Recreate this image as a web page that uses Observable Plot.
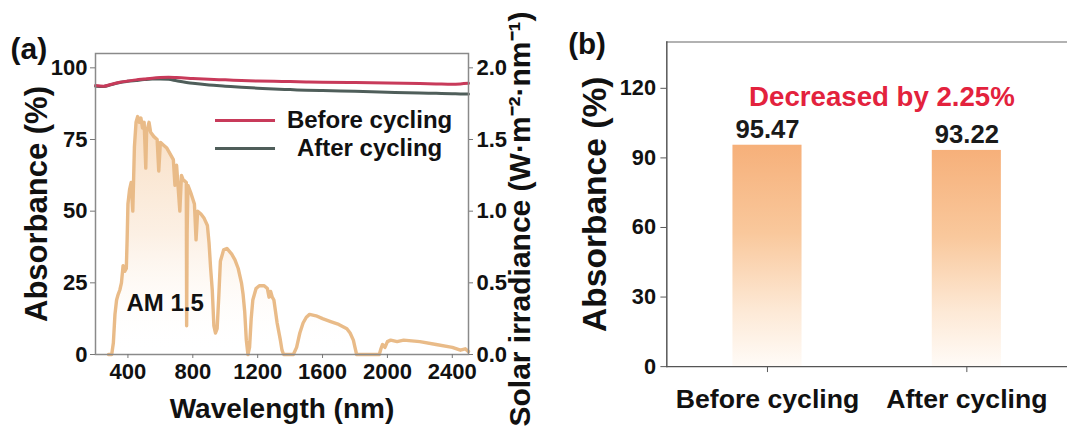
<!DOCTYPE html>
<html>
<head>
<meta charset="utf-8">
<script src="https://cdn.jsdelivr.net/npm/d3@7"></script>
<script src="https://cdn.jsdelivr.net/npm/@observablehq/plot@0.6"></script>
<style>
  html, body { margin: 0; padding: 0; background: #fff; overflow: hidden; }
  #wrap { position: relative; width: 1067px; height: 430px; overflow: hidden; }
  #pa { position: absolute; left: 0; top: 0; }
  #pb { position: absolute; left: 540px; top: 0; }
</style>
</head>
<body>
<div id="wrap"><div id="pa"></div><div id="pb"></div></div>
<script>
// ---------- data: panel (a) ----------
const wavelengths = [200, 250, 300, 350, 400, 450, 500, 550, 600, 650, 700, 800, 900, 1000, 1100, 1200, 1300, 1400, 1500, 1600, 1800, 2000, 2200, 2300, 2400, 2450, 2500];
const absBefore   = [93.8, 93.6, 94.3, 95.0, 95.4, 95.8, 96.1, 96.4, 96.6, 96.7, 96.6, 96.3, 96.0, 95.8, 95.6, 95.4, 95.3, 95.2, 95.1, 95.0, 94.9, 94.7, 94.5, 94.4, 94.3, 94.4, 94.6];
const absAfter    = [93.6, 93.5, 94.2, 94.9, 95.3, 95.6, 95.9, 96.1, 96.1, 96.0, 95.5, 94.6, 94.0, 93.6, 93.2, 92.9, 92.6, 92.4, 92.2, 92.1, 91.8, 91.5, 91.2, 91.1, 91.0, 90.9, 90.9];

const solarWl  = [280, 300, 310, 320, 330, 340, 350, 360, 370, 380, 390, 395, 400, 410, 420, 430, 440, 450, 460, 470, 480, 490, 500, 510, 515, 530, 540, 560, 580, 590, 600, 620, 640, 660, 680, 690, 700, 720, 730, 740, 760, 762, 765, 770, 790, 810, 820, 830, 850, 870, 890, 900, 910, 920, 930, 940, 950, 960, 970, 990, 1010, 1040, 1060, 1080, 1100, 1110, 1120, 1130, 1140, 1150, 1160, 1170, 1190, 1210, 1240, 1260, 1270, 1280, 1290, 1300, 1310, 1320, 1340, 1350, 1360, 1420, 1440, 1460, 1480, 1500, 1520, 1560, 1600, 1650, 1700, 1750, 1770, 1790, 1800, 1810, 1950, 1960, 1970, 1985, 2000, 2020, 2060, 2100, 2200, 2300, 2400, 2450, 2480, 2500];
const solarIrr = [0, 0, 0.08, 0.28, 0.38, 0.42, 0.45, 0.50, 0.62, 0.58, 0.60, 0.80, 1.05, 1.15, 1.20, 1.00, 1.45, 1.62, 1.66, 1.62, 1.65, 1.58, 1.62, 1.30, 1.55, 1.62, 1.55, 1.52, 1.50, 1.28, 1.48, 1.46, 1.44, 1.40, 1.36, 1.18, 1.32, 1.00, 1.25, 1.22, 1.20, 0.20, 0.85, 1.18, 1.12, 1.05, 0.80, 1.00, 0.98, 0.95, 0.90, 0.78, 0.60, 0.45, 0.20, 0.15, 0.18, 0.40, 0.65, 0.73, 0.74, 0.70, 0.66, 0.60, 0.50, 0.42, 0.30, 0.10, 0.00, 0.05, 0.25, 0.38, 0.46, 0.48, 0.48, 0.46, 0.40, 0.44, 0.40, 0.38, 0.30, 0.22, 0.10, 0.03, 0, 0, 0.05, 0.15, 0.22, 0.26, 0.28, 0.27, 0.25, 0.23, 0.21, 0.18, 0.15, 0.10, 0.05, 0, 0, 0.04, 0.07, 0.05, 0.09, 0.10, 0.09, 0.10, 0.09, 0.07, 0.05, 0.03, 0.04, 0.02];

const xTicksA = [400, 800, 1200, 1600, 2000, 2400];
const yTicksA = [0, 25, 50, 75, 100];
const yTicksRight = [0, 0.5, 1.0, 1.5, 2.0];
const legendLabels = ["Before cycling", "After cycling"];

// ---------- data: panel (b) ----------
const barCategories = ["Before cycling", "After cycling"];
const barValues = [95.47, 93.22];
const yTicksB = [0, 30, 60, 90, 120];
const noteB = "Decreased by 2.25%";

// ---------- build ----------
const FONT = "'Liberation Sans', Arial, Helvetica, sans-serif";
const RED = "#c83a5a", GREY = "#4f5e5a";
const K = 50; // right-axis (W·m⁻²·nm⁻¹) → left-axis (%) factor

const absRows = wavelengths.map((w, i) => ({w, before: absBefore[i], after: absAfter[i]}));
const solarRows = solarWl.map((w, i) => ({w, irr: solarIrr[i]}));

const chartA = Plot.plot({
  width: 540, height: 430,
  marginLeft: 95, marginRight: 72, marginTop: 53, marginBottom: 76,
  style: {fontFamily: FONT, fontWeight: "bold", fontSize: "22px", color: "#111", background: "transparent", overflow: "visible"},
  x: {domain: [200, 2500]},
  y: {domain: [0, 105]},
  marks: [
    Plot.areaY(solarRows, {x: "w", y: d => d.irr * K, fill: "url(#amFill)"}),
    Plot.lineY(solarRows, {x: "w", y: d => d.irr * K, stroke: "#e9bb88", strokeWidth: 3.4, strokeLinejoin: "round"}),
    Plot.lineY(absRows, {x: "w", y: "after", stroke: GREY, strokeWidth: 3, curve: "monotone-x"}),
    Plot.lineY(absRows, {x: "w", y: "before", stroke: RED, strokeWidth: 3, curve: "monotone-x"}),
    // legend
    Plot.ruleY([legendLabels[0]], {y: 81.6, x1: 940, x2: 1310, stroke: RED, strokeWidth: 3}),
    Plot.ruleY([legendLabels[1]], {y: 71.9, x1: 940, x2: 1310, stroke: GREY, strokeWidth: 3}),
    Plot.text([legendLabels[0]], {x: 1890, y: 81.6, text: d => d, fontSize: 24, fontWeight: "bold", fill: "#111"}),
    Plot.text([legendLabels[1]], {x: 1890, y: 71.9, text: d => d, fontSize: 24, fontWeight: "bold", fill: "#111"}),
    Plot.text(["AM 1.5"], {frameAnchor: "bottom-left", dx: 31, dy: -44, text: d => d, textAnchor: "start", fontSize: 24, fontWeight: "bold", fill: "#111"}),
    Plot.frame({stroke: "#8a8a8a", strokeWidth: 1.5}),
    Plot.axisX({ticks: xTicksA, tickFormat: d => String(d), tickSize: 4, tickPadding: 5, label: null, fontSize: 22, stroke: "#777"}),
    Plot.axisY({anchor: "left", ticks: yTicksA, tickSize: 5, tickPadding: 3, label: null, fontSize: 22, stroke: "#777"}),
    Plot.axisY({anchor: "right", ticks: yTicksRight.map(v => v * K), tickFormat: d => (d / K).toFixed(1), tickSize: 4, tickPadding: 4, label: null, fontSize: 22, stroke: "#777"}),
    // titles
    Plot.text(["(a)"], {frameAnchor: "top-left", dx: -85, dy: -16, text: d => d, textAnchor: "start", fontSize: 30, fontWeight: "bold", fill: "#111"}),
    Plot.text(["Absorbance (%)"], {frameAnchor: "left", dx: -58, rotate: -90, textAnchor: "middle", text: d => d, fontSize: 31, fontWeight: "bold", fill: "#111"}),
    Plot.text(["Wavelength (nm)"], {frameAnchor: "bottom", dy: 63, text: d => d, fontSize: 28, fontWeight: "bold", fill: "#111"}),
    Plot.text(["Solar irradiance (W·m⁻²·nm⁻¹)"], {frameAnchor: "right", dx: 52, dy: 15, rotate: -90, textAnchor: "middle", text: d => d, fontSize: 30, fontWeight: "bold", fill: "#111"})
  ]
});

const barRows = barCategories.map((c, i) => ({cat: c, val: barValues[i]}));

const chartB = Plot.plot({
  width: 534, height: 430,
  marginLeft: 128, marginRight: 0, marginTop: 42, marginBottom: 59,
  style: {fontFamily: FONT, fontWeight: "bold", fontSize: "22px", color: "#111", background: "transparent", overflow: "visible"},
  x: {domain: barCategories, paddingInner: 0.653, paddingOuter: 0.33},
  y: {domain: [0, 140]},
  marks: [
    Plot.barY(barRows, {x: "cat", y: "val", fill: "url(#barGrad)"}),
    Plot.text(barRows, {x: "cat", y: "val", text: d => d.val.toFixed(2), dy: -16, fontSize: 26, fontWeight: "bold", fill: "#1a1a1a"}),
    Plot.text([noteB], {frameAnchor: "top", dx: 15, dy: 45, text: d => d, fontSize: 28, fontWeight: "bold", fill: "#e3223d"}),
    Plot.ruleY([140], {stroke: "#999", strokeWidth: 1.5}),
    Plot.ruleY([0], {stroke: "#555", strokeWidth: 1.5}),
    Plot.frame({anchor: "left", stroke: "#555", strokeWidth: 1.5}),
    Plot.axisX({tickSize: 6, tickPadding: 17, label: null, fontSize: 27, stroke: "#555"}),
    Plot.axisY({ticks: yTicksB, tickSize: 6, tickPadding: 5, label: null, fontSize: 22, stroke: "#555"}),
    Plot.text(["(b)"], {frameAnchor: "top-left", dx: -100, dy: -9, text: d => d, textAnchor: "start", fontSize: 30, fontWeight: "bold", fill: "#111"}),
    Plot.text(["Absorbance (%)"], {frameAnchor: "left", dx: -73, rotate: -90, textAnchor: "middle", text: d => d, fontSize: 34, fontWeight: "bold", fill: "#111"})
  ]
});

function addGradient(svg, id, stops) {
  const defs = d3.select(svg).insert("defs", ":first-child");
  const g = defs.append("linearGradient").attr("id", id)
    .attr("x1", 0).attr("y1", 0).attr("x2", 0).attr("y2", 1);
  stops.forEach(([o, c, op]) => g.append("stop").attr("offset", o).attr("stop-color", c).attr("stop-opacity", op));
}
addGradient(chartA, "amFill", [[0, "#f6d2ad", 0.75], [0.5, "#fae6d2", 0.6], [1, "#ffffff", 0]]);
addGradient(chartB, "barGrad", [[0, "#f6b07a", 1], [0.4, "#f9c89c", 1], [0.75, "#fde9d6", 1], [1, "#fffbf7", 1]]);

document.getElementById("pa").appendChild(chartA);
document.getElementById("pb").appendChild(chartB);
</script>
</body>
</html>
